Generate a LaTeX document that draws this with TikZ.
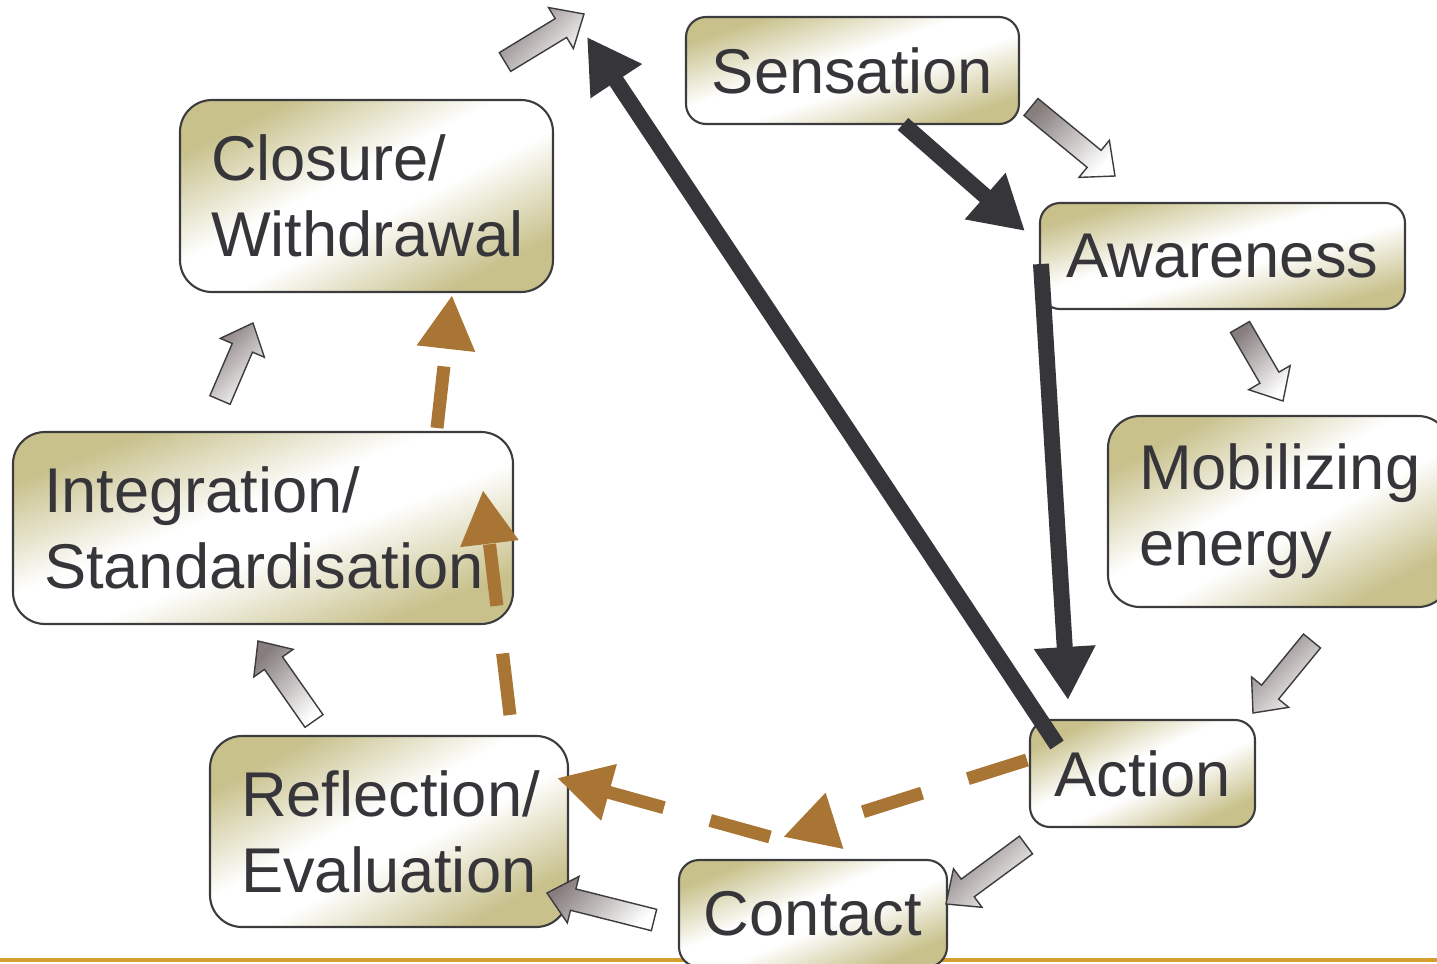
\documentclass[tikz,border=0pt]{standalone}
\usepackage{fontspec}
\setmainfont{Liberation Sans}
\usetikzlibrary{positioning}
\usetikzlibrary{calc}
\usetikzlibrary{arrows.meta}
\definecolor{boxolive}{RGB}{200,193,140}
\definecolor{boxline}{RGB}{60,60,62}
\definecolor{inkgray}{RGB}{54,53,57}
\definecolor{loopbrown}{RGB}{168,117,52}
\definecolor{hintgray}{RGB}{135,125,125}
\definecolor{rulegold}{RGB}{212,160,48}
\pgfdeclarehorizontalshading{stageshade}{100bp}{color(0bp)=(boxolive); color(26bp)=(boxolive); color(45bp)=(white); color(55bp)=(white); color(74bp)=(boxolive); color(100bp)=(boxolive)}
\hyphenpenalty=10000
\hbadness=10000
\hfuzz=1cm
\tikzset{
	every node/.style = {font=\fontsize{18pt}{21.6pt}\selectfont, text=inkgray},
	stage/.style = {draw=boxline, line width=0.6pt, rounded corners=0.2cm, shade, shading=stageshade, inner xsep=0.31cm, inner ysep=0pt, align=left},
	mainflow/.style = {line width=0.16cm, draw=inkgray, -{Triangle[length=0.53cm, width=0.58cm]}},
	backflow/.style = {line width=0.13cm, draw=loopbrown, dash pattern=on 0.62cm off 0.48cm, -{Triangle[length=0.54cm, width=0.55cm]}},
	hint/.style = {draw=boxline, line width=0.4pt, top color=hintgray, bottom color=white, shading angle=45}
}

\begin{document}
\begin{tikzpicture}
		\useasboundingbox (0,0) rectangle (14.37,9.63);
		\clip (0,0) rectangle (14.37,9.63);
		% bottom rule
		\coordinate (rl) at (0,0.03);
		\coordinate (rr) at (14.37,0.03);
		\draw[rulegold, line width=0.04cm] (rl) -- (rr);
		% stages
		\node[stage, shading angle=-72, inner xsep=0.1cm, minimum width=3.33cm, minimum height=1.07cm] (sensation) at (8.525,8.925) {Sensation};
		\node[stage, shading angle=-74, inner xsep=0.1cm, minimum width=3.65cm, minimum height=1.06cm] (awareness) at (12.225,7.07) {Awareness};
		\node[stage, shading angle=-61, rounded corners=0.32cm, text width=2.80cm, minimum height=1.91cm] (mobilizing) at (12.79,4.515) {Mobilizing\\energy};
		\node[stage, shading angle=-65, inner xsep=0.1cm, minimum width=2.25cm, minimum height=1.07cm] (action) at (11.425,1.895) {Action};
		\node[stage, shading angle=-68, inner xsep=0.1cm, minimum width=2.68cm, minimum height=1.07cm] (contact) at (8.13,0.495) {Contact};
		\node[stage, shading angle=-62, rounded corners=0.32cm, text width=2.96cm, minimum height=1.91cm] (reflection) at (3.89,1.315) {Reflection/\\Evaluation};
		\node[stage, shading angle=-69, rounded corners=0.32cm, text width=4.38cm, minimum height=1.92cm] (integration) at (2.63,4.35) {Integration/\\Standardisation};
		\node[stage, shading angle=-63, rounded corners=0.32cm, text width=3.11cm, minimum height=1.92cm] (closure) at (3.665,7.67) {Closure/\\Withdrawal};
		% small block arrows round the cycle
		\coordinate (ta) at (5.05,9.01);   \coordinate (ha) at (5.84,9.49);
		\coordinate (tb) at (10.31,8.56);  \coordinate (hb) at (11.15,7.87);
		\coordinate (tc) at (12.40,6.36);  \coordinate (hc) at (12.83,5.62);
		\coordinate (td) at (13.12,3.22);  \coordinate (hd) at (12.53,2.50);
		\coordinate (te) at (10.26,1.18);  \coordinate (he) at (9.46,0.59);
		\coordinate (tf) at (6.54,0.43);   \coordinate (hf) at (5.47,0.70);
		\coordinate (tg) at (3.14,2.42);   \coordinate (hg) at (2.58,3.22);
		\coordinate (th) at (2.20,5.63);   \coordinate (hh) at (2.53,6.40);
		\foreach \t/\h in {ta/ha, tb/hb, tc/hc, td/hd, te/he, tf/hf, tg/hg, th/hh}{
			\coordinate (base) at ($(\h)!0.27cm!(\t)$);
			\path[hint] ($(\t)!0.11cm!90:(\h)$) -- ($(base)!0.11cm!90:(\h)$) -- ($(base)!0.24cm!90:(\h)$) -- (\h)
				-- ($(base)!0.24cm!-90:(\h)$) -- ($(base)!0.11cm!-90:(\h)$) -- ($(\t)!0.11cm!-90:(\h)$) -- cycle;
		}
		% thick arrows
		\coordinate (s1) at (9.03,8.39);
		\coordinate (a1) at (10.25,7.32);
		\coordinate (a2) at (10.41,6.99);
		\coordinate (c1) at (10.68,2.63);
		\coordinate (c2) at (10.57,2.18);
		\coordinate (top) at (5.87,9.26);
		\draw[mainflow] (s1) -- (a1);
		\draw[mainflow] (a2) -- (c1);
		\draw[mainflow] (c2) -- (top);
		% dashed arrows
		\coordinate (d1) at (10.27,2.03);
		\coordinate (d2) at (7.83,1.26);
		\coordinate (d3) at (7.70,1.26);
		\coordinate (d4) at (5.57,1.85);
		\coordinate (d5) at (5.10,2.48);
		\coordinate (d6) at (4.83,4.73);
		\coordinate (d7) at (4.37,5.35);
		\coordinate (d8) at (4.52,6.68);
		\draw[backflow] (d1) -- (d2);
		\draw[backflow] (d3) -- (d4);
		\draw[backflow] (d5) -- (d6);
		\draw[backflow] (d7) -- (d8);
	\end{tikzpicture}
\end{document}
